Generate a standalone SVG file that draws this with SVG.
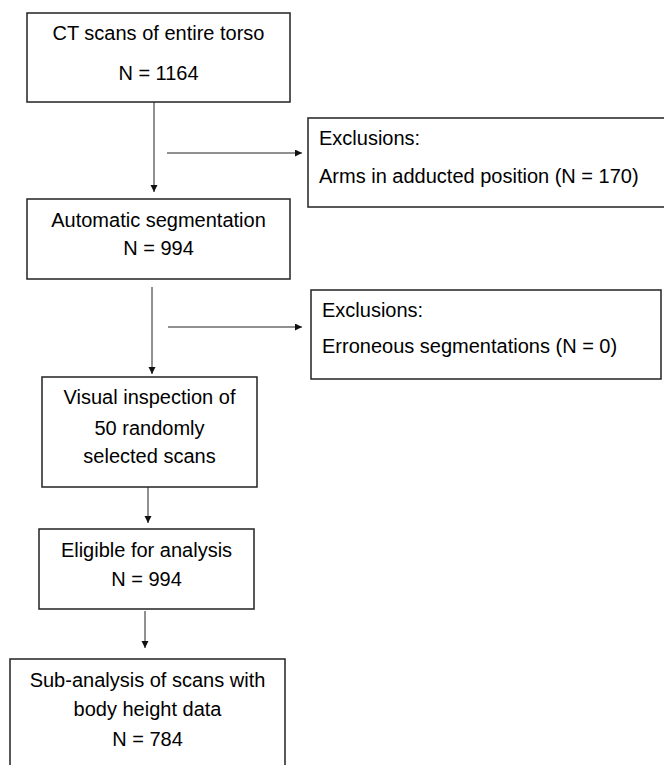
<svg xmlns="http://www.w3.org/2000/svg" width="664" height="765" viewBox="0 0 664 765">
<defs>
<style>
.box{fill:#fff;stroke:#222;stroke-width:1.5}
.t{font-family:"Liberation Sans",Arial,sans-serif;font-size:20px;fill:#000}
.c{text-anchor:middle}
.conn{stroke:#222;stroke-width:1;fill:none}
</style>
<marker id="ah" markerUnits="userSpaceOnUse" markerWidth="8" markerHeight="8" refX="7" refY="3.5" orient="auto">
<path d="M0,0 L7,3.5 L0,7 z" fill="#111"/>
</marker>
</defs>
<rect width="664" height="765" fill="#fff"/>
<g id="connectors">
<line class="conn" x1="154" y1="102" x2="154" y2="192" marker-end="url(#ah)"/>
<line class="conn" x1="167" y1="153" x2="302" y2="153" marker-end="url(#ah)"/>
<line class="conn" x1="152" y1="287" x2="152" y2="374" marker-end="url(#ah)"/>
<line class="conn" x1="168" y1="327" x2="302" y2="327" marker-end="url(#ah)"/>
<line class="conn" x1="148" y1="487" x2="148" y2="523" marker-end="url(#ah)"/>
<line class="conn" x1="145" y1="611" x2="145" y2="648" marker-end="url(#ah)"/>
</g>
<g id="n-ct">
<rect class="box" x="27" y="13" width="263" height="89"/>
<text class="t c" x="158.5" y="40">CT scans of entire torso</text>
<text class="t c" x="158.5" y="80">N = 1164</text>
</g>
<g id="n-excl1">
<rect class="box" x="308" y="118" width="358" height="89"/>
<text class="t" x="319" y="145">Exclusions:</text>
<text class="t" x="319" y="183">Arms in adducted position (N = 170)</text>
</g>
<g id="n-auto">
<rect class="box" x="27" y="199" width="263" height="80"/>
<text class="t c" x="158.5" y="227">Automatic segmentation</text>
<text class="t c" x="158.5" y="255">N = 994</text>
</g>
<g id="n-excl2">
<rect class="box" x="311" y="290" width="350" height="89"/>
<text class="t" x="322" y="317">Exclusions:</text>
<text class="t" x="322" y="353">Erroneous segmentations (N = 0)</text>
</g>
<g id="n-visual">
<rect class="box" x="42" y="377" width="215" height="110"/>
<text class="t c" x="149.5" y="404">Visual inspection of</text>
<text class="t c" x="149.5" y="435">50 randomly</text>
<text class="t c" x="149.5" y="463">selected scans</text>
</g>
<g id="n-eligible">
<rect class="box" x="39" y="529" width="215" height="80"/>
<text class="t c" x="146.5" y="557">Eligible for analysis</text>
<text class="t c" x="146.5" y="586">N = 994</text>
</g>
<g id="n-sub">
<rect class="box" x="10" y="659" width="275" height="120"/>
<text class="t c" x="147.5" y="687">Sub-analysis of scans with</text>
<text class="t c" x="147.5" y="716">body height data</text>
<text class="t c" x="147.5" y="746">N = 784</text>
</g>
</svg>
